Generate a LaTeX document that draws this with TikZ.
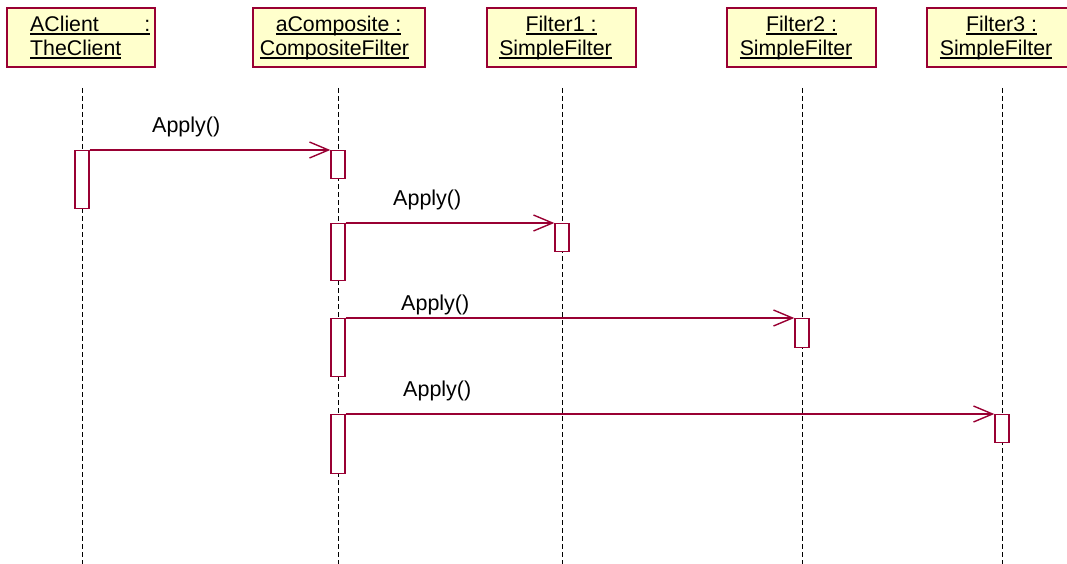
\documentclass[tikz,border=0pt]{standalone}
\usepackage{fontspec}
\setmainfont{Liberation Sans}
\usetikzlibrary{arrows.meta}
\definecolor{umlred}{RGB}{153,0,51}
\definecolor{umlfill}{RGB}{255,255,204}
% underline drawn as a rule under the text box
\newcommand{\ulbox}[1]{\setbox0\hbox{#1}\rlap{\rule[-2.6pt]{\wd0}{1.4pt}}\box0}
\begin{document}
\begin{tikzpicture}[x=1pt,y=-1pt,
  objbox/.style={draw=umlred,fill=umlfill,line width=1.4pt,rectangle,
    minimum height=59pt,inner sep=0pt},
  objtext/.style={anchor=base,inner sep=0pt,font=\fontsize{21.3}{24}\selectfont},
  lifeline/.style={line width=1.6pt,dash pattern=on 5pt off 3pt},
  actbar/.style={draw=umlred,fill=white,line width=1.4pt,rectangle,
    minimum width=14pt,inner sep=0pt,anchor=north},
  msg/.style={draw=umlred,line width=1.4pt,
    -{Straight Barb[length=19pt,width=16pt]}},
  msgtext/.style={anchor=base west,inner sep=0pt,font=\fontsize{21.5}{24}\selectfont}]
\useasboundingbox (0,0) rectangle (1067,564);
\clip (0,0) rectangle (1067,564);

% object boxes
\node[objbox,minimum width=148pt] (client) at (81,37.5) {};
\node[objbox,minimum width=172pt] (comp) at (339,37.5) {};
\node[objbox,minimum width=149pt] (f1) at (561.5,37.5) {};
\node[objbox,minimum width=149pt] (f2) at (801.5,37.5) {};
\node[objbox,minimum width=149pt] (f3) at (1001.5,37.5) {};

% object names
\node[objtext,anchor=base west] (clientA) at (30,32) {\ulbox{\makebox[120pt][l]{AClient\hfill:}}};
\node[objtext,anchor=base west] (clientB) at (30,56) {\ulbox{TheClient}};
\node[objtext] (compA) at (338.5,32) {\ulbox{aComposite :}};
\node[objtext] (compB) at (334.5,56) {\ulbox{CompositeFilter}};
\node[objtext] (f1A) at (561,32) {\ulbox{Filter1 :}};
\node[objtext] (f1B) at (555.5,56) {\ulbox{SimpleFilter}};
\node[objtext] (f2A) at (801.5,32) {\ulbox{Filter2 :}};
\node[objtext] (f2B) at (796,56) {\ulbox{SimpleFilter}};
\node[objtext] (f3A) at (1001.5,32) {\ulbox{Filter3 :}};
\node[objtext] (f3B) at (996,56) {\ulbox{SimpleFilter}};

% lifelines
\coordinate (clientTop) at (82.5,88);   \coordinate (clientBot) at (82.5,564);
\coordinate (compTop) at (338.5,88);    \coordinate (compBot) at (338.5,564);
\coordinate (f1Top) at (562.5,88);      \coordinate (f1Bot) at (562.5,564);
\coordinate (f2Top) at (802.5,88);      \coordinate (f2Bot) at (802.5,564);
\coordinate (f3Top) at (1002.5,88);     \coordinate (f3Bot) at (1002.5,564);
\draw[lifeline] (clientTop) -- (clientBot);
\draw[lifeline] (compTop) -- (compBot);
\draw[lifeline] (f1Top) -- (f1Bot);
\draw[lifeline] (f2Top) -- (f2Bot);
\draw[lifeline] (f3Top) -- (f3Bot);

% activation bars
\node[actbar,minimum height=58pt] (actA) at (82,150) {};
\node[actbar,minimum height=28pt] (actC1) at (338,150) {};
\node[actbar,minimum height=57pt] (actC2) at (338,223) {};
\node[actbar,minimum height=28pt] (actF1) at (562,223) {};
\node[actbar,minimum height=58pt] (actC3) at (338,318) {};
\node[actbar,minimum height=29pt] (actF2) at (802,318) {};
\node[actbar,minimum height=59pt] (actC4) at (338,414) {};
\node[actbar,minimum height=28pt] (actF3) at (1002,414) {};

% messages
\draw[msg] (actA.north east) -- (actC1.north west);
\draw[msg] (actC2.north east) -- (actF1.north west);
\draw[msg] (actC3.north east) -- (actF2.north west);
\draw[msg] (actC4.north east) -- (actF3.north west);

\node[msgtext] (m1) at (152,133) {Apply()};
\node[msgtext] (m2) at (393,205) {Apply()};
\node[msgtext] (m3) at (401,310) {Apply()};
\node[msgtext] (m4) at (403,396) {Apply()};
\end{tikzpicture}
\end{document}
